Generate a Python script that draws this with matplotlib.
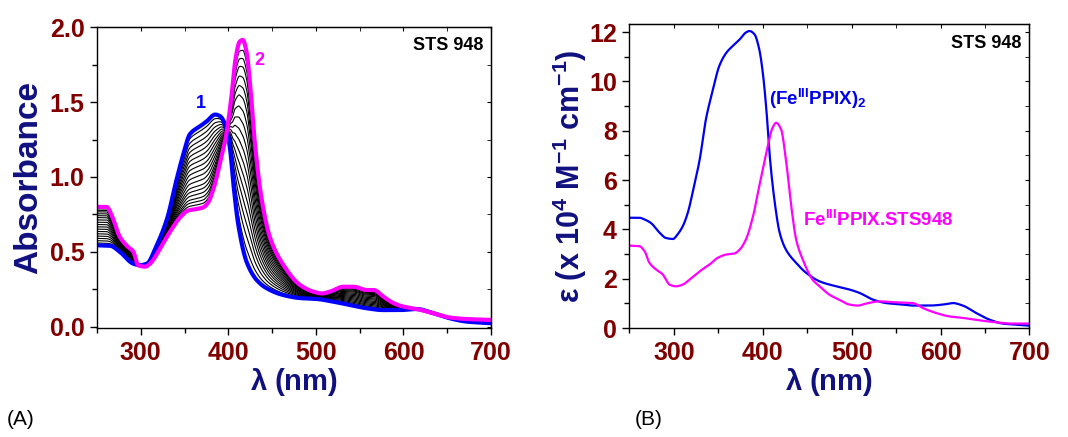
import numpy as np
import matplotlib.pyplot as plt
from matplotlib.ticker import MultipleLocator

plt.rcParams['font.family'] = ['Liberation Sans', 'DejaVu Sans']
plt.rcParams['mathtext.fontset'] = 'custom'
plt.rcParams['mathtext.rm'] = 'Liberation Sans:bold'
plt.rcParams['mathtext.bf'] = 'Liberation Sans:bold'
plt.rcParams['mathtext.it'] = 'Liberation Sans:bold'

# (A) titration: spectrum 1 (start, blue) and spectrum 2 (end, magenta)
wl1 = [250, 265, 276, 291.5, 299, 307, 318, 330, 341, 349, 356, 368, 375, 385,
       390.6, 398, 402, 406, 411.5, 421, 432.5, 444, 463, 482, 501, 520, 539,
       558, 577, 596, 615, 634, 653, 672, 700]
abs1 = [0.543, 0.54, 0.50, 0.42, 0.41, 0.42, 0.54, 0.72, 0.985, 1.16, 1.285,
        1.34, 1.37, 1.417, 1.406, 1.32, 1.185, 0.94, 0.675, 0.43, 0.31, 0.255,
        0.21, 0.19, 0.184, 0.166, 0.144, 0.122, 0.11, 0.11, 0.117, 0.089,
        0.055, 0.033, 0.022]

wl2 = [250, 261, 267, 276, 284, 291.5, 297, 305, 310.5, 322, 333, 345, 354,
       364, 371.5, 377, 383, 390.6, 398, 404, 408, 413, 416.5, 421, 425,
       430.6, 438, 448, 463, 482, 497, 507, 516, 531.5, 543, 558, 566, 577,
       589, 600, 615, 634, 653, 672, 700]
abs2 = [0.80, 0.80, 0.74, 0.60, 0.54, 0.50, 0.41, 0.40, 0.42, 0.52, 0.63,
        0.73, 0.775, 0.786, 0.797, 0.83, 0.92, 1.096, 1.296, 1.56, 1.78,
        1.905, 1.916, 1.83, 1.606, 1.207, 0.853, 0.587, 0.41, 0.277, 0.233,
        0.221, 0.233, 0.266, 0.266, 0.244, 0.244, 0.20, 0.155, 0.133, 0.117,
        0.089, 0.06, 0.05, 0.044]

# fraction of spectrum 2 in each intermediate (black) trace
fractions = [0.06, 0.12, 0.18, 0.24, 0.30, 0.36, 0.42, 0.48, 0.54, 0.60,
             0.66, 0.72, 0.77, 0.82, 0.87, 0.91, 0.95]

# (B) molar absorptivity (x 10^4 M-1 cm-1)
wl_dimer = [250, 261, 267, 274, 284, 291, 299, 304, 310, 315.6, 321, 329, 336,
            344, 351, 359, 366, 374, 381, 385, 390.6, 396, 400, 404, 407.5,
            413, 419, 426, 437.5, 449, 464, 482.5, 497.5, 509, 524, 539, 557.5,
            569, 587.5, 602.5, 614, 625, 640, 655, 670, 685, 700]
eps_dimer = [4.47, 4.47, 4.40, 4.26, 3.86, 3.65, 3.61, 3.79, 4.13, 4.67, 5.48,
             6.83, 8.46, 9.68, 10.62, 11.16, 11.43, 11.70, 11.98, 12.04, 11.91,
             11.3, 10.35, 8.86, 7.1, 5.21, 3.86, 3.18, 2.64, 2.23, 1.89, 1.69,
             1.56, 1.42, 1.15, 1.01, 0.95, 0.91, 0.91, 0.95, 1.01, 0.91, 0.61,
             0.34, 0.18, 0.135, 0.095]

wl_cplx = [250, 261, 267, 272.5, 280, 287.5, 291, 295, 302.5, 310, 317.5, 329,
           340, 349, 359, 368, 374, 381, 389, 396, 404, 411, 415, 420.6, 426,
           432, 437.5, 445, 456, 464, 475, 486, 497.5, 507, 516, 531, 550, 569,
           580, 595, 610, 625, 644, 662.5, 681, 700]
eps_cplx = [3.34, 3.32, 3.11, 2.64, 2.37, 2.17, 1.96, 1.76, 1.69, 1.76, 1.96,
            2.30, 2.57, 2.84, 2.98, 3.02, 3.18, 3.59, 4.53, 5.75, 7.1, 8.12,
            8.32, 8.05, 6.83, 4.94, 3.59, 2.77, 1.96, 1.69, 1.35, 1.15, 0.95,
            0.91, 0.99, 1.08, 1.04, 1.01, 0.81, 0.61, 0.47, 0.41, 0.31, 0.23,
            0.18, 0.18]

tick_col = '#800000'
label_col = '#10107F'


def smooth(x, y, grid):
    # monotone cubic (pchip-style) through the read points, only for drawing
    x = np.asarray(x, float)
    y = np.asarray(y, float)
    h = np.diff(x)
    d = np.diff(y) / h
    m = np.zeros_like(y)
    for k in range(1, len(x) - 1):
        if d[k - 1] * d[k] > 0:
            w1 = 2 * h[k] + h[k - 1]
            w2 = h[k] + 2 * h[k - 1]
            m[k] = (w1 + w2) / (w1 / d[k - 1] + w2 / d[k])
    m[0] = d[0]
    m[-1] = d[-1]
    i = np.clip(np.searchsorted(x, grid) - 1, 0, len(x) - 2)
    hh = x[i + 1] - x[i]
    t = (grid - x[i]) / hh
    h00 = 2 * t**3 - 3 * t**2 + 1
    h10 = t**3 - 2 * t**2 + t
    h01 = -2 * t**3 + 3 * t**2
    h11 = t**3 - t**2
    return h00 * y[i] + h10 * hh * m[i] + h01 * y[i + 1] + h11 * hh * m[i + 1]


fig = plt.figure(figsize=(10.68, 4.37), dpi=100)
axA = fig.add_axes([0.0908, 0.2494, 0.369, 0.688])
axB = fig.add_axes([0.5894, 0.2494, 0.3745, 0.696])


def style_axis(ax):
    ax.tick_params(which='both', direction='out', top=False, right=False,
                   width=1, labelsize=18, labelcolor=tick_col, pad=4)
    ax.tick_params(which='major', length=5)
    ax.tick_params(which='minor', length=3.5)
    for lab in ax.get_xticklabels() + ax.get_yticklabels():
        lab.set_fontweight('bold')
    # inward ticks on top/right
    ax2 = ax.secondary_xaxis('top')
    ax2.tick_params(which='both', direction='in', length=3, labeltop=False)
    ax2.xaxis.set_major_locator(ax.xaxis.get_major_locator())
    ax2.xaxis.set_minor_locator(ax.xaxis.get_minor_locator())
    ax3 = ax.secondary_yaxis('right')
    ax3.tick_params(which='both', direction='in', length=3, labelright=False)
    ax3.yaxis.set_major_locator(ax.yaxis.get_major_locator())
    ax3.yaxis.set_minor_locator(ax.yaxis.get_minor_locator())
    for sp in ax.spines.values():
        sp.set_linewidth(1)


grid = np.linspace(250, 700, 901)

# ---- panel A ----
s1 = smooth(wl1, abs1, grid)
s2 = smooth(wl2, abs2, grid)
for f in fractions:
    axA.plot(grid, (1 - f) * s1 + f * s2, color='black', lw=0.8)
axA.plot(grid, s1, color='#0000FF', lw=3)
axA.plot(grid, s2, color='#FF00FF', lw=3)
axA.set_xlim(250, 700)
axA.set_ylim(-0.01, 2.0)
axA.xaxis.set_major_locator(MultipleLocator(100))
axA.xaxis.set_minor_locator(MultipleLocator(50))
axA.yaxis.set_major_locator(MultipleLocator(0.5))
axA.yaxis.set_minor_locator(MultipleLocator(0.25))
axA.yaxis.set_major_formatter(plt.FormatStrFormatter('%.1f'))
style_axis(axA)
axA.set_xlabel(r'$\lambda$ (nm)', fontsize=21, fontweight='bold',
               color=label_col, labelpad=1)
axA.set_ylabel('Absorbance', fontsize=24, fontweight='bold',
               color=label_col, labelpad=4)
axA.text(0.98, 0.94, 'STS 948', transform=axA.transAxes, ha='right',
         va='center', fontsize=13, fontweight='bold', color='black')
axA.text(369, 1.49, '1', color='#0000FF', fontsize=13, fontweight='bold',
         ha='center', va='center')
axA.text(435, 1.78, '2', color='#FF00FF', fontsize=13, fontweight='bold',
         ha='center', va='center')

# ---- panel B ----
axB.plot(grid, smooth(wl_dimer, eps_dimer, grid), color='#0000EE', lw=1.6)
axB.plot(grid, smooth(wl_cplx, eps_cplx, grid), color='#FF00FF', lw=1.6)
axB.set_xlim(250, 700)
axB.set_ylim(0, 12.33)
axB.xaxis.set_major_locator(MultipleLocator(100))
axB.xaxis.set_minor_locator(MultipleLocator(50))
axB.yaxis.set_major_locator(MultipleLocator(2))
axB.yaxis.set_minor_locator(MultipleLocator(1))
style_axis(axB)
axB.set_xlabel(r'$\lambda$ (nm)', fontsize=21, fontweight='bold',
               color=label_col, labelpad=1)
axB.set_ylabel(r'$\epsilon$ (x 10$^{4}$ M$^{-1}$ cm$^{-1}$)', fontsize=22,
               fontweight='bold', color=label_col, labelpad=0)
axB.text(0.98, 0.935, 'STS 948', transform=axB.transAxes, ha='right',
         va='center', fontsize=13, fontweight='bold', color='black')
axB.text(407, 9.3, r'(Fe$^{\rm III}$PPIX)$_{2}$', color='#0000EE',
         fontsize=13.5, fontweight='bold', ha='left', va='center')
axB.text(445, 4.4, r'Fe$^{\rm III}$PPIX.STS948', color='#FF00FF',
         fontsize=13.5, fontweight='bold', ha='left', va='center')

fig.text(0.006, 0.04, '(A)', fontsize=15, ha='left', va='center')
fig.text(0.594, 0.04, '(B)', fontsize=15, ha='left', va='center')

fig.savefig('out.png', dpi=100)
